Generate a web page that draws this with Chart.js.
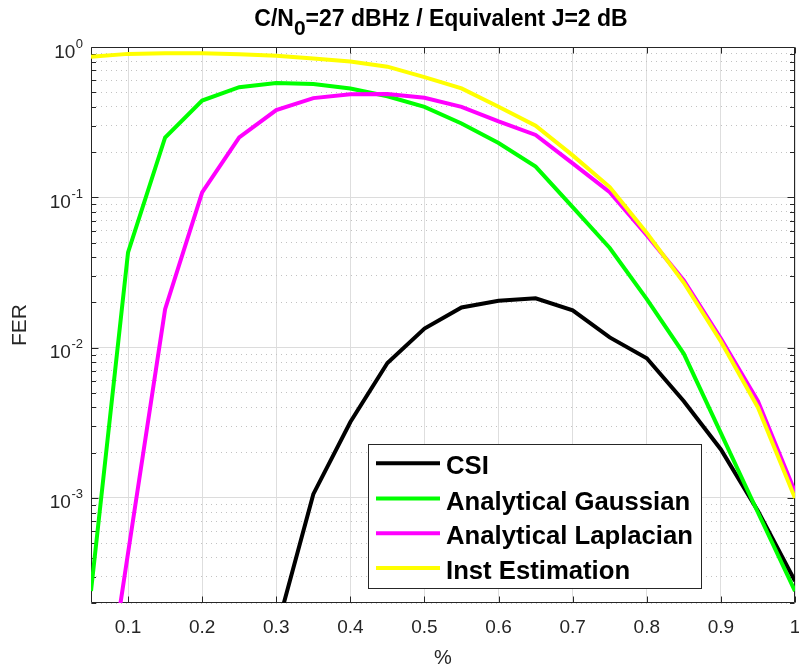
<!DOCTYPE html>
<html lang="en">
<head>
    <meta charset="UTF-8">
    <title>FER vs %</title>
    <script src="https://cdn.jsdelivr.net/npm/chart.js"></script>
    <style>
        html, body { margin: 0; padding: 0; background-color: white; }
        .chart-container { width: 799px; height: 671px; position: relative; }
    </style>
</head>
<body>
    <div class="chart-container">
        <canvas id="ferChart"></canvas>
    </div>

    <script>
        // values
        const xValues = [0.05, 0.1, 0.15, 0.2, 0.25, 0.3, 0.35, 0.4, 0.45, 0.5,
                         0.55, 0.6, 0.65, 0.7, 0.75, 0.8, 0.85, 0.9, 0.95, 1];
        const csiFer = [null, null, null, null, null, 1.3e-4, 1.06e-3, 3.2e-3, 7.9e-3, 0.0134,
                        0.0185, 0.0205, 0.0213, 0.0177, 0.0117, 0.0085, 0.0044, 0.0021, 8.2e-4, 2.8e-4];
        const gaussFer = [2.4e-4, 0.043, 0.25, 0.44, 0.54, 0.575, 0.567, 0.53, 0.47, 0.40,
                          0.31, 0.23, 0.16, 0.086, 0.046, 0.021, 0.0091, 0.0027, 8e-4, 2.4e-4];
        const laplaceFer = [1e-5, 4.3e-4, 0.018, 0.108, 0.25, 0.38, 0.457, 0.484, 0.486, 0.459,
                            0.40, 0.32, 0.26, 0.168, 0.108, 0.056, 0.028, 0.0115, 0.0044, 0.0011];
        const instFer = [0.86, 0.90, 0.91, 0.91, 0.895, 0.875, 0.84, 0.80, 0.74, 0.63,
                         0.53, 0.40, 0.30, 0.19, 0.117, 0.058, 0.027, 0.011, 0.004, 0.001];

        const seriesLabels = ['CSI', 'Analytical Gaussian', 'Analytical Laplacian', 'Inst Estimation'];
        const seriesColors = ['#000000', '#00ff00', '#ff00ff', '#ffff00'];

        const xTicks = [0.1, 0.2, 0.3, 0.4, 0.5, 0.6, 0.7, 0.8, 0.9, 1];
        const yDecades = [1e-3, 1e-2, 1e-1, 1];
        const yMin = 2e-4, yMax = 1;

        const FONT = '"Liberation Sans", Arial, Helvetica, sans-serif';
        const AXIS_COLOR = '#262626';

        function isDecade(v) {
            const l = Math.log10(v);
            return Math.abs(l - Math.round(l)) < 1e-9;
        }

        // minor + major positions for the log axis (1..9 x 10^n)
        function logTickValues(min, max) {
            const out = [];
            for (let e = Math.floor(Math.log10(min)); e <= Math.ceil(Math.log10(max)); e++) {
                for (let m = 1; m <= 9; m++) {
                    const v = Number((m * Math.pow(10, e)).toPrecision(6));
                    if (v >= min * 0.9999 && v <= max * 1.0001) out.push(v);
                }
            }
            return out;
        }
        const yTickValues = logTickValues(yMin, yMax);

        function toPoints(ys) {
            return xValues.map((x, i) => ({ x: x, y: ys[i] }));
        }

        // box with inward ticks, MATLAB style
        const axesBoxPlugin = {
            id: 'axesBox',
            beforeDatasetsDraw(chart) {
                const { ctx, chartArea: a, scales } = chart;
                const L = Math.round(a.left) + 0.5, R = Math.round(a.right) - 0.5;
                const T = Math.round(a.top) + 0.5, B = Math.round(a.bottom) - 0.5;
                ctx.save();
                ctx.strokeStyle = AXIS_COLOR;
                ctx.lineWidth = 1;
                ctx.beginPath();
                ctx.rect(L, T, R - L, B - T);
                xTicks.forEach(v => {
                    const px = Math.round(scales.x.getPixelForValue(v)) + 0.5;
                    ctx.moveTo(px, B); ctx.lineTo(px, B - 6);
                    ctx.moveTo(px, T); ctx.lineTo(px, T + 6);
                });
                yTickValues.forEach(v => {
                    const py = Math.round(scales.y.getPixelForValue(v)) + 0.5;
                    const len = isDecade(v) ? 7 : 4.5;
                    ctx.moveTo(L, py); ctx.lineTo(L + len, py);
                    ctx.moveTo(R, py); ctx.lineTo(R - len, py);
                });
                ctx.stroke();
                ctx.restore();
            },
            afterDraw(chart) {
                const { ctx, chartArea: a, scales } = chart;
                ctx.save();
                ctx.fillStyle = AXIS_COLOR;

                // y labels 10^n
                yDecades.forEach(d => {
                    const py = scales.y.getPixelForValue(d);
                    const expText = String(Math.round(Math.log10(d)));
                    ctx.font = '13px ' + FONT;
                    const wExp = ctx.measureText(expText).width;
                    const expX = 83 - wExp;
                    ctx.textAlign = 'left';
                    ctx.textBaseline = 'alphabetic';
                    ctx.fillText(expText, expX, py + 0.5);
                    ctx.font = '19px ' + FONT;
                    ctx.textAlign = 'right';
                    ctx.fillText('10', expX - 0.5, py + 10.5);
                });

                // title with subscript
                ctx.fillStyle = '#000000';
                ctx.textAlign = 'left';
                ctx.textBaseline = 'alphabetic';
                const big = 'bold 23px ' + FONT, small = 'bold 21px ' + FONT;
                const p1 = 'C/N', p2 = '0', p3 = '=27 dBHz / Equivalent J=2 dB';
                ctx.font = big;
                const w1 = ctx.measureText(p1).width;
                const w3 = ctx.measureText(p3).width;
                ctx.font = small;
                const w2 = ctx.measureText(p2).width;
                const tx = (a.left + a.right) / 2 - 2 - (w1 + w2 + w3) / 2;
                ctx.font = big;
                ctx.fillText(p1, tx, 26);
                ctx.font = small;
                ctx.fillText(p2, tx + w1, 35);
                ctx.font = big;
                ctx.fillText(p3, tx + w1 + w2, 26);

                // legend
                const bx = 368.5, by = 444.5, bw = 333, bh = 144;
                ctx.fillStyle = '#ffffff';
                ctx.fillRect(bx, by, bw, bh);
                ctx.strokeStyle = AXIS_COLOR;
                ctx.lineWidth = 1;
                ctx.strokeRect(bx, by, bw, bh);
                const rowY = [463.3, 498.5, 533.3, 568];
                ctx.font = 'bold 25.7px ' + FONT;
                seriesLabels.forEach((lab, i) => {
                    ctx.strokeStyle = seriesColors[i];
                    ctx.lineWidth = 4;
                    ctx.beginPath();
                    ctx.moveTo(376, rowY[i]);
                    ctx.lineTo(440, rowY[i]);
                    ctx.stroke();
                    ctx.fillStyle = '#000000';
                    ctx.fillText(lab, 446, rowY[i] + 11);
                });
                ctx.restore();
            }
        };

        function createDataset(label, ys, color, order) {
            return {
                label: label,
                data: toPoints(ys),
                borderColor: color,
                backgroundColor: color,
                borderWidth: 4,
                pointRadius: 0,
                fill: false,
                tension: 0,
                spanGaps: false,
                order: order
            };
        }

        const ctx = document.getElementById('ferChart').getContext('2d');
        new Chart(ctx, {
            type: 'line',
            data: {
                datasets: [
                    createDataset(seriesLabels[0], csiFer, seriesColors[0], 3),
                    createDataset(seriesLabels[1], gaussFer, seriesColors[1], 2),
                    createDataset(seriesLabels[2], laplaceFer, seriesColors[2], 1),
                    createDataset(seriesLabels[3], instFer, seriesColors[3], 0)
                ]
            },
            options: {
                responsive: true,
                maintainAspectRatio: false,
                animation: false,
                layout: { padding: { left: 0, right: 4, top: 47, bottom: 0 } },
                plugins: {
                    legend: { display: false },
                    tooltip: { enabled: false }
                },
                scales: {
                    x: {
                        type: 'linear',
                        min: 0.05,
                        max: 1,
                        afterBuildTicks: s => { s.ticks = xTicks.map(v => ({ value: v })); },
                        afterFit: s => { s.height = 68; s.paddingLeft = 0; s.paddingRight = 0; },
                        grid: { color: '#dedede', lineWidth: 1, drawTicks: false },
                        border: { display: false },
                        ticks: {
                            autoSkip: false,
                            maxRotation: 0,
                            padding: 13,
                            color: AXIS_COLOR,
                            font: { family: FONT, size: 19 },
                            callback: v => String(v)
                        },
                        title: {
                            display: true,
                            text: '%',
                            color: AXIS_COLOR,
                            font: { family: FONT, size: 20 },
                            padding: { top: 0, bottom: 1 }
                        }
                    },
                    y: {
                        type: 'logarithmic',
                        min: yMin,
                        max: yMax,
                        afterBuildTicks: s => { s.ticks = yTickValues.map(v => ({ value: v, major: isDecade(v) })); },
                        afterFit: s => { s.width = 91; s.paddingTop = 0; s.paddingBottom = 0; },
                        grid: {
                            drawTicks: false,
                            lineWidth: 1,
                            color: c => (c.tick && isDecade(c.tick.value)) ? '#dcdcdc' : '#c2c2c2'
                        },
                        border: {
                            display: false,
                            dash: c => (c.tick && !isDecade(c.tick.value)) ? [1, 4] : []
                        },
                        ticks: { display: false, autoSkip: false },
                        title: {
                            display: true,
                            text: 'FER',
                            color: AXIS_COLOR,
                            font: { family: FONT, size: 21 },
                            padding: { top: 8, bottom: 0 }
                        }
                    }
                }
            },
            plugins: [axesBoxPlugin]
        });
    </script>
</body>
</html>
